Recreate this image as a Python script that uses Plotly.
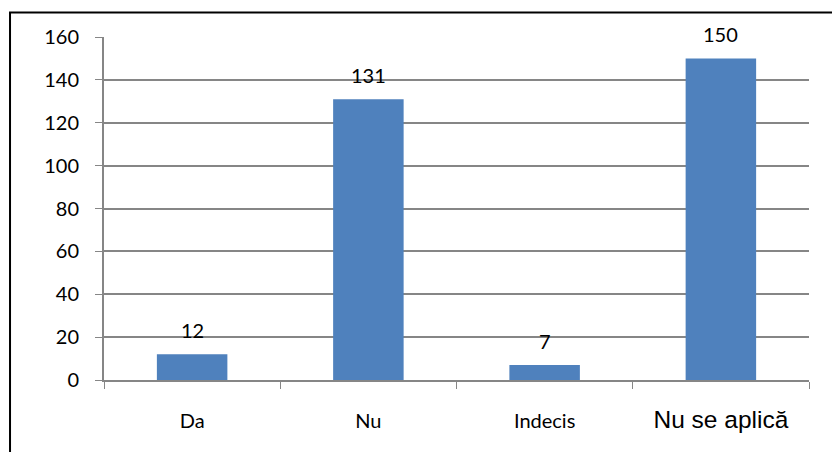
import plotly.graph_objects as go

# data
categories = ["Da", "Nu", "Indecis", "Nu se aplică"]
values = [12, 131, 7, 150]
y_ticks = [0, 20, 40, 60, 80, 100, 120, 140, 160]

# x tick labels: last one is in a different font in the original
tick_text = [
    "Da",
    "Nu",
    "Indecis",
    '<span style="font-family:Liberation Sans, Arial; font-size:24.5px">Nu se aplică</span>',
]

fig = go.Figure()
fig.add_trace(go.Bar(
    x=categories, y=values,
    width=0.4,
    marker=dict(color="#4F81BD", line=dict(width=0)),
    hoverinfo="x+y",
))

# value labels above bars
for c, v in zip(categories, values):
    fig.add_annotation(x=c, y=v, text=str(v), showarrow=False,
                       yanchor="middle", yshift=24,
                       font=dict(family="Lato", size=20, color="black"))

grey = "#868686"
fig.update_layout(
    width=832, height=452,
    margin=dict(l=104, r=23, t=37, b=72),
    paper_bgcolor="white", plot_bgcolor="white",
    showlegend=False,
    font=dict(family="Lato", size=20, color="black"),
    xaxis=dict(
        tickmode="array", tickvals=categories, ticktext=tick_text,
        tickson="boundaries", ticks="outside", ticklen=7, tickcolor=grey,
        showline=True, linecolor=grey, linewidth=2,
        showgrid=False, ticklabelstandoff=22,
    ),
    yaxis=dict(
        range=[0, 160], tickvals=y_ticks,
        ticks="outside", ticklen=7, tickcolor=grey,
        showline=True, linecolor=grey, linewidth=2,
        showgrid=True, gridcolor=grey, gridwidth=1.5,
        zeroline=False, ticklabelstandoff=12,
    ),
    shapes=[dict(type="rect", xref="paper", yref="paper",
                 x0=-0.1333, x1=1.04, y0=-0.22, y1=1.0714,
                 line=dict(color="black", width=2), fillcolor="rgba(0,0,0,0)")],
)

# page has a default 8px body margin; drop it so the figure sits at 0,0
fig.write_html("out.html", config={"displayModeBar": False},
               post_script="document.body.style.margin='0';")
